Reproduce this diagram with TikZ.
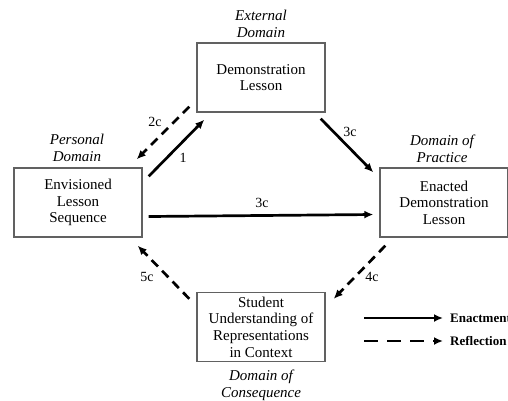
\documentclass[tikz,border=0pt]{standalone}
\usepackage{fontspec}
\setmainfont{Liberation Serif}
\usetikzlibrary{arrows.meta,calc}
\begin{document}
\begin{tikzpicture}[x=1pt,y=-1pt,
  box/.style={draw=black!62,line width=1.4pt,minimum width=128pt,minimum height=69pt,inner sep=0pt,align=center,font=\fontsize{15}{16.6}\selectfont},
  dom/.style={align=center,font=\fontsize{15}{17}\selectfont\itshape},
  lab/.style={font=\fontsize{14}{15}\selectfont},
  leg/.style={font=\fontsize{13}{14}\selectfont\bfseries,anchor=west,inner sep=0pt},
  enact/.style={line width=2.7pt,-{Latex[length=9pt,width=8pt]}},
  reflect/.style={line width=2.7pt,dash pattern=on 9pt off 6pt,-{Latex[length=9pt,width=8pt]}},
  reflectleg/.style={line width=2.7pt,dash pattern=on 14pt off 9pt,-{Latex[length=9pt,width=8pt]}}]
\clip (0,0) rectangle (508,400);
\fill[white] (0,0) rectangle (508,400);
% boxes
\node[box] (demo) at (261,77.5) {Demonstration\\Lesson};
\node[box] (env) at (78,202.5) {Envisioned\\Lesson\\Sequence};
\node[box] (enact) at (444,202.5) {Enacted\\Demonstration\\Lesson};
\node[box] (stud) at (261,327) {Student\\Understanding of\\Representations\\in Context};
% domain labels
\node[dom] (dext) at (261,24) {External\\Domain};
\node[dom] (dper) at (77,147.5) {Personal\\Domain};
\node[dom] (dpra) at (442,148.5) {Domain of\\Practice};
\node[dom] (dcon) at (261,385) {Domain of\\Consequence};
% connectors
\draw[enact] ($(env.north east)+(6,9)$) -- ($(demo.south west)+(8,7)$);
\draw[reflect] ($(demo.south west)+(-7,-6)$) -- ($(env.north east)+(-6,-8)$);
\draw[enact] ($(demo.south east)+(-5,6)$) -- ($(enact.north west)+(-6,5)$);
\draw[enact] ($(env.east)+(6,14)$) -- ($(enact.west)+(-6,12)$);
\draw[reflect] ($(enact.south west)+(6,8)$) -- ($(stud.north east)+(8,7)$);
\draw[reflect] ($(stud.north west)+(-7,7)$) -- ($(env.south east)+(-5,8)$);
% connector labels
\node[lab] (l2c) at (155,122) {2c};
\node[lab] (l1) at (183,158) {1};
\node[lab] (l3a) at (350,132) {3c};
\node[lab] (l3b) at (262,203) {3c};
\node[lab] (l4c) at (372,277) {4c};
\node[lab] (l5c) at (147,277) {5c};
% legend
\coordinate (e1) at (364,318);
\coordinate (e2) at (443,318);
\coordinate (r1) at (364,341);
\coordinate (r2) at (443,341);
\draw[enact] (e1) -- (e2);
\draw[reflectleg] (r1) -- (r2);
\node[leg] (tenact) at (450,318) {Enactment};
\node[leg] (trefl) at (450,341) {Reflection};
\end{tikzpicture}
\end{document}
